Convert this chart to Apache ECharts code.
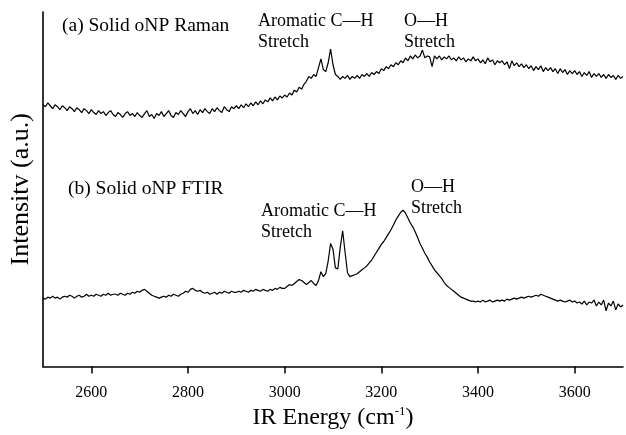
<!DOCTYPE html>
<html>
<head>
<meta charset="utf-8">
<script src="https://cdn.jsdelivr.net/npm/echarts@6/dist/echarts.min.js"></script>
<style>html,body{margin:0;padding:0;background:#fff}#c{width:626px;height:435px}</style>
</head>
<body>
<div id="c"></div>
<script>
// Sampling grid (cm-1), 5 cm-1 steps from 2500 to 3700
const wavenumbers = Array.from({length: 241}, (_, i) => 2500 + 5 * i);
const tickValues = [2600, 2800, 3000, 3200, 3400, 3600];

// (a) Solid oNP Raman, offset trace (a.u.)
const ramanValues = [
  268,266,270,267,264,268,266,263,267,265,
  262,266,264,261,265,263,260,264,262,259,
  263,260,258,262,259,261,257,260,262,258,
  256,260,258,255,259,261,257,259,256,260,
  257,255,259,262,256,258,254,259,257,261,
  256,259,262,257,255,260,258,262,259,256,
  261,264,259,262,258,263,260,264,261,259,
  264,261,265,262,260,266,263,261,266,264,
  267,264,268,265,269,266,270,267,271,268,
  272,269,273,271,275,272,276,273,277,275,
  278,276,280,278,283,281,286,284,289,292,
  297,295,299,297,306,315,304,302,311,325,
  309,299,297,294,297,295,298,294,297,295,
  298,295,299,297,300,297,301,299,302,300,
  305,303,307,305,309,307,311,309,313,311,
  316,313,318,315,319,316,318,324,316,318,
  317,307,318,315,318,314,317,315,318,314,
  316,313,317,314,316,312,315,313,317,313,
  315,311,314,310,316,312,314,309,313,311,
  313,309,312,305,313,308,311,307,310,306,
  309,305,308,303,307,304,308,302,306,303,
  306,302,305,300,305,301,304,299,303,300,
  303,299,302,297,301,298,302,296,300,297,
  300,296,299,295,299,296,298,294,298,295,
  297
];

// (b) Solid oNP FTIR (a.u.)
const ftirValues = [
  70,69,71,70,72,70,71,69,71,72,
  71,73,72,70,72,73,71,72,74,72,
  73,72,74,73,72,74,73,75,73,74,
  74,73,75,74,73,75,74,76,75,77,
  76,78,79,77,75,73,72,71,70,71,
  72,71,73,72,74,73,72,74,75,77,
  76,79,80,78,77,78,76,75,76,74,
  75,76,74,76,75,77,76,75,77,76,
  76,77,76,78,77,76,78,77,79,78,
  77,79,78,77,79,78,80,79,81,80,
  80,82,84,83,85,87,89,88,86,84,
  86,88,85,83,88,97,92,95,108,126,
  120,101,100,122,139,117,96,92,93,94,
  95,97,99,101,103,106,109,113,117,121,
  125,128,132,136,140,145,150,154,158,160,
  157,152,147,143,138,132,126,121,116,112,
  107,103,99,96,93,90,86,83,81,79,
  77,75,73,71,70,69,68,67,67,66,
  67,66,68,66,67,68,66,67,68,67,
  68,67,69,68,69,70,69,70,71,70,
  71,72,71,72,73,72,74,73,72,71,
  70,69,68,67,68,67,66,67,68,66,
  67,65,66,64,67,63,66,65,68,62,
  66,63,68,57,65,62,67,58,64,61,
  63
];

const pairs = (vals) => wavenumbers.map((w, i) => [w, vals[i]]);
const FONT = '"Liberation Serif", "Times New Roman", serif';

const chart = echarts.init(document.getElementById('c'), null, {renderer: 'canvas'});
chart.setOption({
  animation: false,
  backgroundColor: '#fff',
  grid: {left: 42, right: 3, top: 12, bottom: 60},
  xAxis: {
    type: 'value', min: 2500, max: 3700,
    axisLine: {show: true, onZero: false, lineStyle: {color: '#000', width: 1.6}},
    axisTick: {show: true, customValues: tickValues, length: 7, lineStyle: {color: '#000', width: 1.5}},
    axisLabel: {show: true, customValues: tickValues, color: '#000', fontSize: 16, fontFamily: FONT, margin: 18,
      formatter: (v) => String(v)},
    splitLine: {show: false},
    name: 'IR Energy (cm{sup|-1})',
    nameLocation: 'middle', nameGap: 39,
    nameTextStyle: {color: '#000', fontSize: 24, fontFamily: FONT,
      rich: {sup: {fontSize: 13, fontFamily: FONT, color: '#000', padding: [0, 0, 12, 0]}}}
  },
  yAxis: {
    type: 'value', min: 0, max: 363,
    axisLine: {show: true, lineStyle: {color: '#000', width: 1.6}},
    axisTick: {show: false}, axisLabel: {show: false}, splitLine: {show: false},
    name: 'Intensitv (a.u.)', nameLocation: 'middle', nameGap: 9,
    nameTextStyle: {color: '#000', fontSize: 26, fontFamily: FONT}
  },
  series: [
    {type: 'line', data: pairs(ramanValues), showSymbol: false, silent: true,
      lineStyle: {color: '#000', width: 1.2}},
    {type: 'line', data: pairs(ftirValues), showSymbol: false, silent: true,
      lineStyle: {color: '#000', width: 1.2}}
  ],
  graphic: [
    {type: 'text', left: 62, top: 16, style: {text: '(a) Solid oNP Raman', font: '19.5px ' + FONT, fill: '#000'}},
    {type: 'text', left: 258, top: 11, style: {text: 'Aromatic C\u2014H\nStretch', font: '18px ' + FONT, lineHeight: 21, fill: '#000'}},
    {type: 'text', left: 404, top: 11, style: {text: 'O\u2014H\nStretch', font: '18px ' + FONT, lineHeight: 21, fill: '#000'}},
    {type: 'text', left: 68, top: 179, style: {text: '(b) Solid oNP FTIR', font: '19.5px ' + FONT, fill: '#000'}},
    {type: 'text', left: 261, top: 201, style: {text: 'Aromatic C\u2014H\nStretch', font: '18px ' + FONT, lineHeight: 21, fill: '#000'}},
    {type: 'text', left: 411, top: 177, style: {text: 'O\u2014H\nStretch', font: '18px ' + FONT, lineHeight: 21, fill: '#000'}}
  ]
});
</script>
</body>
</html>
